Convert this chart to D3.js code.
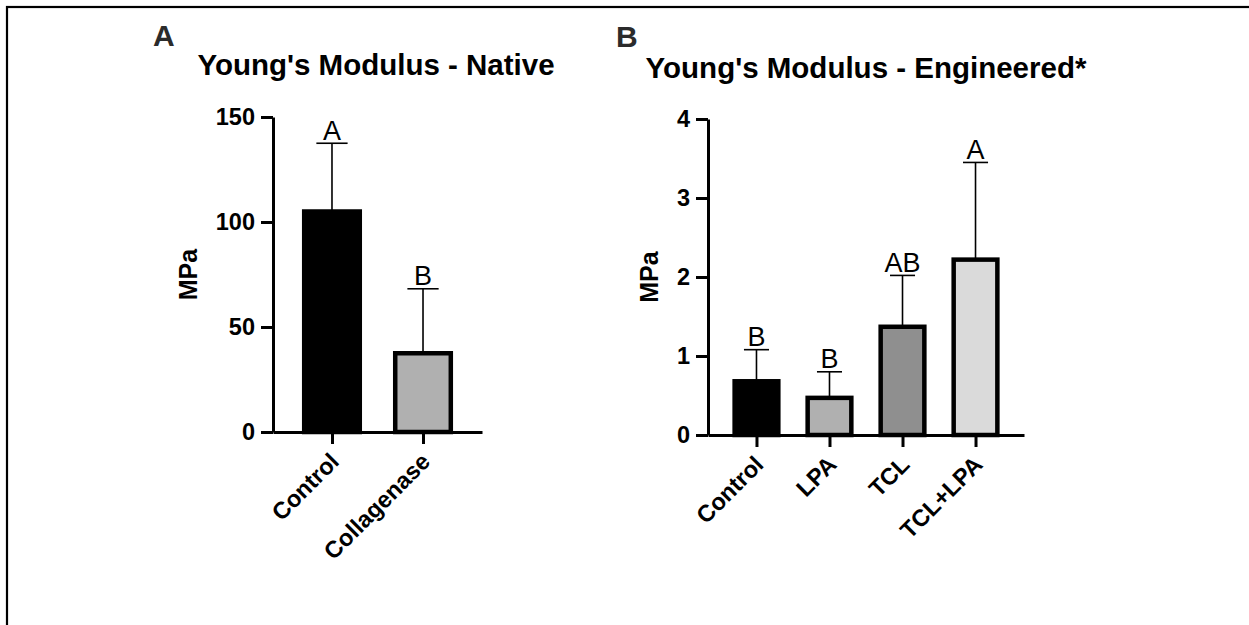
<!DOCTYPE html>
<html>
<head>
<meta charset="utf-8">
<script src="https://cdn.jsdelivr.net/npm/d3@7"></script>
<style>
  body { margin: 0; background: #fff; }
  svg { display: block; }
  text { font-family: "Liberation Sans", Arial, Helvetica, sans-serif; }
</style>
</head>
<body>
<svg id="fig" width="1249" height="625"></svg>
<script>
// Native tissue
const nativeGroups = ["Control", "Collagenase"];
const nativeMeans = [105, 37.5];
const nativeSD = [32.5, 30.7];
const nativeLetters = ["A", "B"];
const nativeFills = ["#000000", "#b0b0b0"];
const nativeTicks = [0, 50, 100, 150];

// Engineered tissue
const engGroups = ["Control", "LPA", "TCL", "TCL+LPA"];
const engMeans = [0.68, 0.47, 1.37, 2.22];
const engSD = [0.40, 0.33, 0.65, 1.23];
const engLetters = ["B", "B", "AB", "A"];
const engFills = ["#000000", "#b0b0b0", "#8f8f8f", "#dadada"];
const engTicks = [0, 1, 2, 3, 4];

const svg = d3.select("#fig");

// outer frame (open on the right and bottom edges of the page)
svg.append("rect")
  .attr("x", 7).attr("y", 7)
  .attr("width", 1400).attr("height", 800)
  .attr("fill", "none").attr("stroke", "#000").attr("stroke-width", 2.2);

function panel(o) {
  const g = svg.append("g");
  const x = d3.scalePoint().domain(o.groups).range([o.left, o.right]).padding(o.pad);
  const y = d3.scaleLinear().domain([0, o.yMax]).range([o.bottom, o.top]);
  const step = x.step();
  const barW = step * 0.66;
  const sw = 4.5;

  const rows = o.groups.map((k, i) => ({ k, m: o.means[i], sd: o.sd[i], letter: o.letters[i], fill: o.fills[i] }));

  // bars
  g.selectAll("rect.bar").data(rows).join("rect")
    .attr("class", "bar")
    .attr("x", d => x(d.k) - barW / 2 + sw / 2)
    .attr("width", barW - sw)
    .attr("y", d => y(d.m))
    .attr("height", d => y(0) - y(d.m))
    .attr("fill", d => d.fill)
    .attr("stroke", "#000")
    .attr("stroke-width", sw);

  // error bars (upper only)
  const capW = barW * 0.52;
  g.selectAll("line.err").data(rows).join("line")
    .attr("x1", d => x(d.k)).attr("x2", d => x(d.k))
    .attr("y1", d => y(d.m)).attr("y2", d => y(d.m + d.sd))
    .attr("stroke", "#000").attr("stroke-width", 1.6);
  g.selectAll("line.cap").data(rows).join("line")
    .attr("x1", d => x(d.k) - capW / 2).attr("x2", d => x(d.k) + capW / 2)
    .attr("y1", d => y(d.m + d.sd)).attr("y2", d => y(d.m + d.sd))
    .attr("stroke", "#000").attr("stroke-width", 1.6);

  // significance letters
  g.selectAll("text.sig").data(rows).join("text")
    .attr("x", d => x(d.k))
    .attr("y", d => y(d.m + d.sd) - 3.5)
    .attr("text-anchor", "middle")
    .attr("font-size", 27)
    .text(d => d.letter);

  // y axis
  const ya = g.append("g")
    .attr("transform", `translate(${o.left},0)`)
    .call(d3.axisLeft(y).tickValues(o.ticks).tickFormat(d3.format("d"))
      .tickSize(12).tickSizeOuter(0).tickPadding(6));
  ya.select(".domain").attr("stroke-width", 3);
  ya.selectAll(".tick line").attr("stroke-width", 3);
  ya.selectAll(".tick text")
    .attr("font-size", 23.5).attr("font-weight", "bold")
    .attr("font-family", "Liberation Sans, Arial, sans-serif");

  // x axis
  const xa = g.append("g")
    .attr("transform", `translate(0,${o.bottom})`)
    .call(d3.axisBottom(x).tickSize(12).tickSizeOuter(0));
  xa.select(".domain").attr("stroke-width", 3);
  xa.selectAll(".tick line").attr("stroke-width", 3);
  xa.selectAll(".tick text")
    .attr("font-size", 23.5).attr("font-weight", "bold")
    .attr("font-family", "Liberation Sans, Arial, sans-serif")
    .attr("text-anchor", "end")
    .attr("x", 0).attr("y", 0).attr("dy", 0)
    .attr("transform", "translate(8,31) rotate(-45)");

  // y axis title
  g.append("text")
    .attr("transform", `translate(${o.ylabX},${(o.top + o.bottom) / 2}) rotate(-90)`)
    .attr("text-anchor", "middle")
    .attr("font-size", 25).attr("font-weight", "bold")
    .text("MPa");

  // chart title
  g.append("text")
    .attr("x", o.titleX).attr("y", o.titleY)
    .attr("text-anchor", "middle")
    .attr("font-size", 29.5).attr("font-weight", "bold")
    .text(o.title);

  // panel tag
  g.append("text")
    .attr("x", o.tagX).attr("y", o.tagY)
    .attr("font-size", 30).attr("font-weight", "bold")
    .attr("fill", "#2b2b2b")
    .text(o.tag);
}

panel({
  groups: nativeGroups, means: nativeMeans, sd: nativeSD, letters: nativeLetters, fills: nativeFills,
  ticks: nativeTicks, yMax: 150,
  left: 273, right: 482, bottom: 432, top: 117, pad: 0.648,
  ylabX: 197, title: "Young's Modulus - Native", titleX: 376, titleY: 75,
  tag: "A", tagX: 153, tagY: 46
});

panel({
  groups: engGroups, means: engMeans, sd: engSD, letters: engLetters, fills: engFills,
  ticks: engTicks, yMax: 4,
  left: 708, right: 1024, bottom: 435, top: 119, pad: 0.664,
  ylabX: 658, title: "Young's Modulus - Engineered*", titleX: 866, titleY: 78,
  tag: "B", tagX: 616, tagY: 47
});
</script>
</body>
</html>
